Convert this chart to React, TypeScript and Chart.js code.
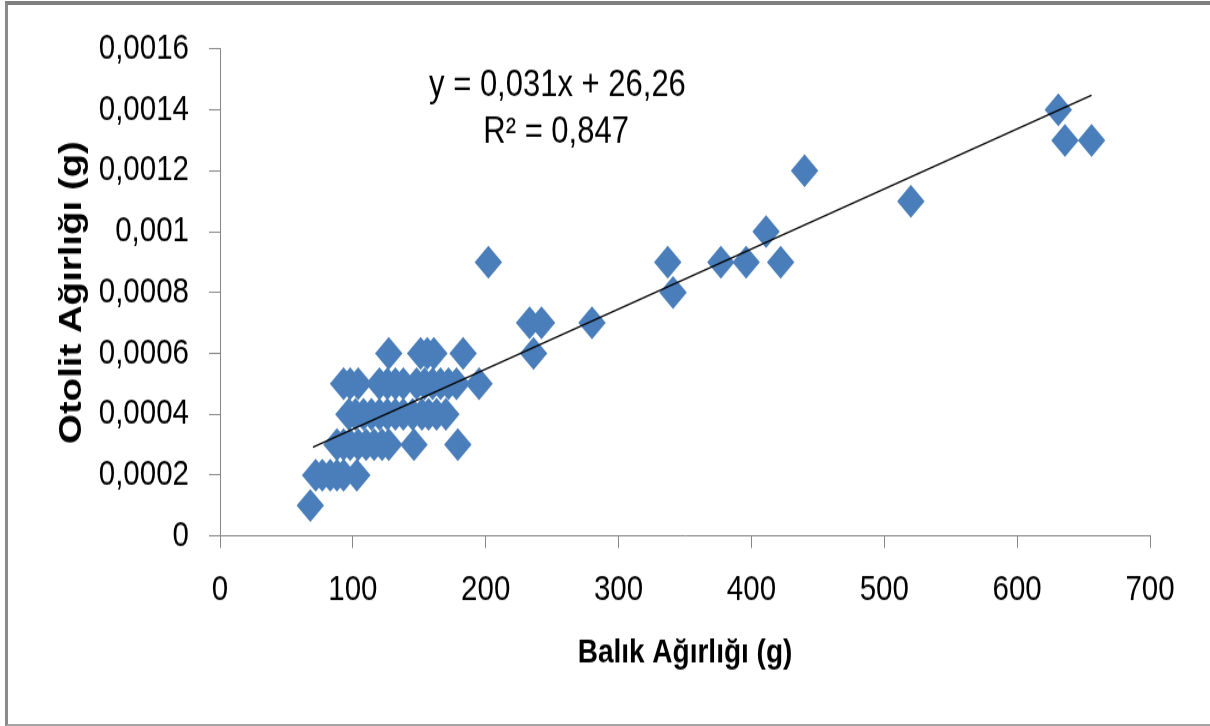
import React, { useEffect, useRef } from 'react';
import { Chart, registerables } from 'chart.js';

Chart.register(...registerables);

const balikAgirligi = [
  68,
  72, 77, 83, 88, 93, 103,
  88, 93, 98, 104, 110, 116, 122, 127, 146, 179,
  97, 102, 108, 114, 120, 126, 132, 138, 145, 152, 157, 163, 170,
  93, 98, 104, 120, 126, 132, 138, 148, 154, 160, 166, 172, 178, 195,
  127, 151, 156, 161, 183,
  202, 233, 236, 242, 280, 337, 341, 377, 396, 411, 422, 440, 520, 631, 636, 656,
];
const otolitAgirligi = [
  0.0001,
  0.0002, 0.0002, 0.0002, 0.0002, 0.0002, 0.0002,
  0.0003, 0.0003, 0.0003, 0.0003, 0.0003, 0.0003, 0.0003, 0.0003, 0.0003, 0.0003,
  0.0004, 0.0004, 0.0004, 0.0004, 0.0004, 0.0004, 0.0004, 0.0004, 0.0004, 0.0004, 0.0004, 0.0004, 0.0004,
  0.0005, 0.0005, 0.0005, 0.0005, 0.0005, 0.0005, 0.0005, 0.0005, 0.0005, 0.0005, 0.0005, 0.0005, 0.0005, 0.0005,
  0.0006, 0.0006, 0.0006, 0.0006, 0.0006,
  0.0009, 0.0007, 0.0006, 0.0007, 0.0007, 0.0009, 0.0008, 0.0009, 0.0009, 0.001, 0.0009, 0.0012, 0.0011, 0.0014, 0.0013, 0.0013,
];

// Linear trend line end points
const trendX = [70, 656];
const trendY = [0.000292, 0.001448];

const xTickLabels = ['0', '100', '200', '300', '400', '500', '600', '700'];
const yTickLabels = ['0', '0,0002', '0,0004', '0,0006', '0,0008', '0,001', '0,0012', '0,0014', '0,0016'];

const equationLines = ['y = 0,031x + 26,26', 'R\u00B2 = 0,847'];
const equationX = [254, 253];
const equationY = [0.001478, 0.001324];

const xTitle = 'Balık Ağırlığı (g)';
const yTitle = 'Otolit Ağırlığı (g)';

const FONT = "'Liberation Sans', Arial, sans-serif";
const BLUE = '#4A7EBB';
const AXIS = '#868686';

// The original picture is stretched vertically; the chart is drawn on a
// shorter canvas and stretched by CSS to the full height.
const STRETCH = 1.2;
const W = 1210;
const H = 726 / STRETCH;

const equationPlugin = {
  id: 'equationText',
  afterDatasetsDraw(chart: any) {
    const { ctx, scales } = chart;
    ctx.save();
    ctx.fillStyle = '#000';
    ctx.font = `31px ${FONT}`;
    ctx.textAlign = 'center';
    ctx.textBaseline = 'middle';
    equationLines.forEach((t, i) => {
      ctx.fillText(t, scales.x.getPixelForValue(equationX[i]), scales.y.getPixelForValue(equationY[i]));
    });
    ctx.restore();
  },
};

export default function App() {
  const ref = useRef<HTMLCanvasElement>(null);

  useEffect(() => {
    document.body.style.margin = '0';
    const points = balikAgirligi.map((x, i) => ({ x, y: otolitAgirligi[i] }));
    const trend = trendX.map((x, i) => ({ x, y: trendY[i] }));
    const chart = new Chart(ref.current!, {
      type: 'scatter',
      data: {
        datasets: [
          {
            type: 'line',
            data: trend,
            borderColor: '#000',
            borderWidth: 1.3,
            pointRadius: 0,
            fill: false,
          } as any,
          {
            data: points,
            pointStyle: 'rectRot',
            pointRadius: 13.75,
            backgroundColor: BLUE,
            borderColor: BLUE,
            borderWidth: 0,
          },
        ],
      },
      options: {
        animation: false,
        responsive: false,
        devicePixelRatio: 1,
        layout: { padding: { left: 0, right: 60, top: 49 / STRETCH, bottom: 0 } },
        plugins: { legend: { display: false }, tooltip: { enabled: false } },
        scales: {
          x: {
            type: 'linear',
            min: 0,
            max: 700,
            afterFit: (s: any) => { s.height = H - 536 / STRETCH; },
            ticks: {
              stepSize: 100,
              color: '#000',
              padding: 17.5,
              font: { family: FONT, size: 29.5 },
              callback: (_v: any, i: number) => xTickLabels[i],
            },
            grid: { drawOnChartArea: false, drawTicks: true, tickLength: 10, color: AXIS },
            border: { color: AXIS, width: 1 },
            title: {
              display: true,
              text: xTitle,
              color: '#000',
              font: { family: FONT, size: 28, weight: 'bold' },
              padding: { top: 0, bottom: 44 },
            },
          },
          y: {
            type: 'linear',
            min: 0,
            max: 0.0016,
            afterFit: (s: any) => { s.width = 220; },
            ticks: {
              stepSize: 0.0002,
              color: '#000',
              padding: 20,
              font: { family: FONT, size: 29.5 },
              callback: (_v: any, i: number) => yTickLabels[i],
            },
            grid: { drawOnChartArea: false, drawTicks: true, tickLength: 11, color: AXIS },
            border: { color: AXIS, width: 1 },
            title: {
              display: true,
              text: yTitle,
              color: '#000',
              font: { family: FONT, size: 32, weight: 'bold' },
              padding: { top: 53, bottom: 0 },
            },
          },
        },
      },
      plugins: [equationPlugin],
    });
    return () => chart.destroy();
  }, []);

  return (
    <div style={{ position: 'relative', width: 1210, height: 726, overflow: 'hidden', background: '#fff' }}>
      <div
        style={{
          position: 'absolute',
          left: 0,
          top: 0,
          width: W,
          height: H,
          transform: `scaleY(${STRETCH})`,
          transformOrigin: '0 0',
        }}
      >
        <canvas ref={ref} width={W} height={H} style={{ display: 'block', width: W, height: H }} />
      </div>
      <div
        style={{
          position: 'absolute',
          left: 5,
          top: 1,
          width: 1220,
          height: 719,
          borderLeft: '3px solid #8a8a8a',
          borderTop: '4px solid #7f7f7f',
          borderBottom: '3px solid #a6a6a6',
          pointerEvents: 'none',
        }}
      />
    </div>
  );
}
